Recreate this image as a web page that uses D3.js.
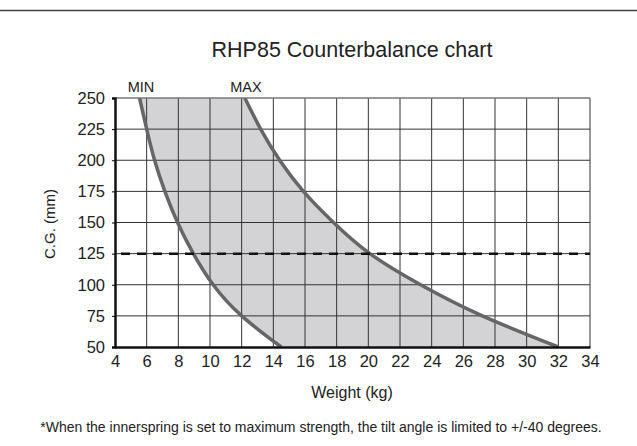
<!DOCTYPE html>
<html>
<head>
<meta charset="utf-8">
<script src="https://cdn.jsdelivr.net/npm/d3@7"></script>
<style>
  body { margin: 0; background: #fff; }
  svg { display: block; }
  text { font-family: "Liberation Sans", Arial, Helvetica, sans-serif; fill: #222; }
</style>
</head>
<body>
<div id="chart"></div>
<script>
// C.G. levels (mm) and the weight (kg) at that level
var cgLevels = [250, 225, 200, 175, 150, 125, 100, 75, 50];
var minWeight = [5.55, 6.0, 6.5, 7.15, 7.95, 8.95, 10.2, 12.0, 14.5];
var maxWeight = [12.2, 13.2, 14.4, 15.9, 17.8, 20.1, 23.3, 27.2, 32.0];

var xTicks = [4, 6, 8, 10, 12, 14, 16, 18, 20, 22, 24, 26, 28, 30, 32, 34];
var yTicks = [50, 75, 100, 125, 150, 175, 200, 225, 250];
var limitCG = 125;

var W = 637, H = 446;
var x = d3.scaleLinear().domain([4, 34]).range([115, 590]);
var y = d3.scaleLinear().domain([50, 250]).range([347, 98]);

var svg = d3.select("#chart").append("svg")
    .attr("width", W)
    .attr("height", H);

// rule at the very top
svg.append("line")
    .attr("x1", 0).attr("x2", W)
    .attr("y1", 10.5).attr("y2", 10.5)
    .attr("stroke", "#444")
    .attr("stroke-width", 1.5);

svg.append("text")
    .attr("x", 352)
    .attr("y", 57)
    .attr("text-anchor", "middle")
    .attr("font-size", 21.5)
    .text("RHP85 Counterbalance chart");

svg.append("clipPath").attr("id", "plot")
    .append("rect")
    .attr("x", x(4)).attr("y", y(250))
    .attr("width", x(34) - x(4)).attr("height", y(50) - y(250));

var rows = cgLevels.map(function(c, i) {
    return {cg: c, lo: minWeight[i], hi: maxWeight[i]};
});

var smooth = d3.curveNatural;

var band = d3.area()
    .curve(smooth)
    .y(function(d) { return y(d.cg); })
    .x0(function(d) { return x(d.lo); })
    .x1(function(d) { return x(d.hi); });

svg.append("path")
    .datum(rows)
    .attr("d", band)
    .attr("fill", "#d3d3d5")
    .attr("clip-path", "url(#plot)");

// grid
svg.append("g").selectAll("line")
    .data(xTicks.slice(1))
    .enter().append("line")
    .attr("x1", function(d) { return x(d); })
    .attr("x2", function(d) { return x(d); })
    .attr("y1", y(250)).attr("y2", y(50))
    .attr("stroke", "#333")
    .attr("stroke-width", 1);

svg.append("g").selectAll("line")
    .data(yTicks.slice(1, -1))
    .enter().append("line")
    .attr("x1", x(4)).attr("x2", x(34))
    .attr("y1", function(d) { return y(d); })
    .attr("y2", function(d) { return y(d); })
    .attr("stroke", "#333")
    .attr("stroke-width", 1);

svg.append("line")
    .attr("x1", x(4)).attr("x2", x(34))
    .attr("y1", y(250)).attr("y2", y(250))
    .attr("stroke", "#777")
    .attr("stroke-width", 1.5);

// curves
var minLine = d3.line()
    .curve(smooth)
    .x(function(d) { return x(d.lo); })
    .y(function(d) { return y(d.cg); });
var maxLine = d3.line()
    .curve(smooth)
    .x(function(d) { return x(d.hi); })
    .y(function(d) { return y(d.cg); });

[minLine, maxLine].forEach(function(l) {
    svg.append("path")
        .datum(rows)
        .attr("d", l)
        .attr("fill", "none")
        .attr("stroke", "#666")
        .attr("stroke-width", 3.5)
        .attr("clip-path", "url(#plot)");
});

// tilt limit
svg.append("line")
    .attr("x1", x(4) + 6).attr("x2", x(34))
    .attr("y1", y(limitCG)).attr("y2", y(limitCG))
    .attr("stroke", "#111")
    .attr("stroke-width", 2.5)
    .attr("stroke-dasharray", "9,7");

// axes
var yAxis = d3.axisLeft(y).tickValues(yTicks).tickSize(3).tickPadding(7);
var gy = svg.append("g").attr("transform", "translate(" + x(4) + ",0)").call(yAxis);
gy.select(".domain").attr("stroke", "#111").attr("stroke-width", 2.5);
gy.selectAll("text").attr("font-size", 16.5).attr("font-family", null).attr("fill", "#222");

var xAxis = d3.axisBottom(x).tickValues(xTicks).tickSize(0).tickPadding(8);
var gx = svg.append("g").attr("transform", "translate(0," + y(50) + ")").call(xAxis);
gx.select(".domain").attr("stroke", "#111").attr("stroke-width", 2.5);
gx.selectAll("text").attr("font-size", 16.5).attr("font-family", null).attr("fill", "#222");

svg.append("text")
    .attr("x", 141).attr("y", 92)
    .attr("text-anchor", "middle")
    .attr("font-size", 14.5)
    .text("MIN");
svg.append("text")
    .attr("x", 246).attr("y", 92)
    .attr("text-anchor", "middle")
    .attr("font-size", 14.5)
    .text("MAX");

svg.append("text")
    .attr("transform", "translate(55,224) rotate(-90)")
    .attr("text-anchor", "middle")
    .attr("font-size", 15)
    .text("C.G. (mm)");

svg.append("text")
    .attr("x", 352).attr("y", 398)
    .attr("text-anchor", "middle")
    .attr("font-size", 16)
    .text("Weight (kg)");

svg.append("text")
    .attr("x", 321).attr("y", 432)
    .attr("text-anchor", "middle")
    .attr("font-size", 14)
    .text("*When the innerspring is set to maximum strength, the tilt angle is limited to +/-40 degrees.");
</script>
</body>
</html>
